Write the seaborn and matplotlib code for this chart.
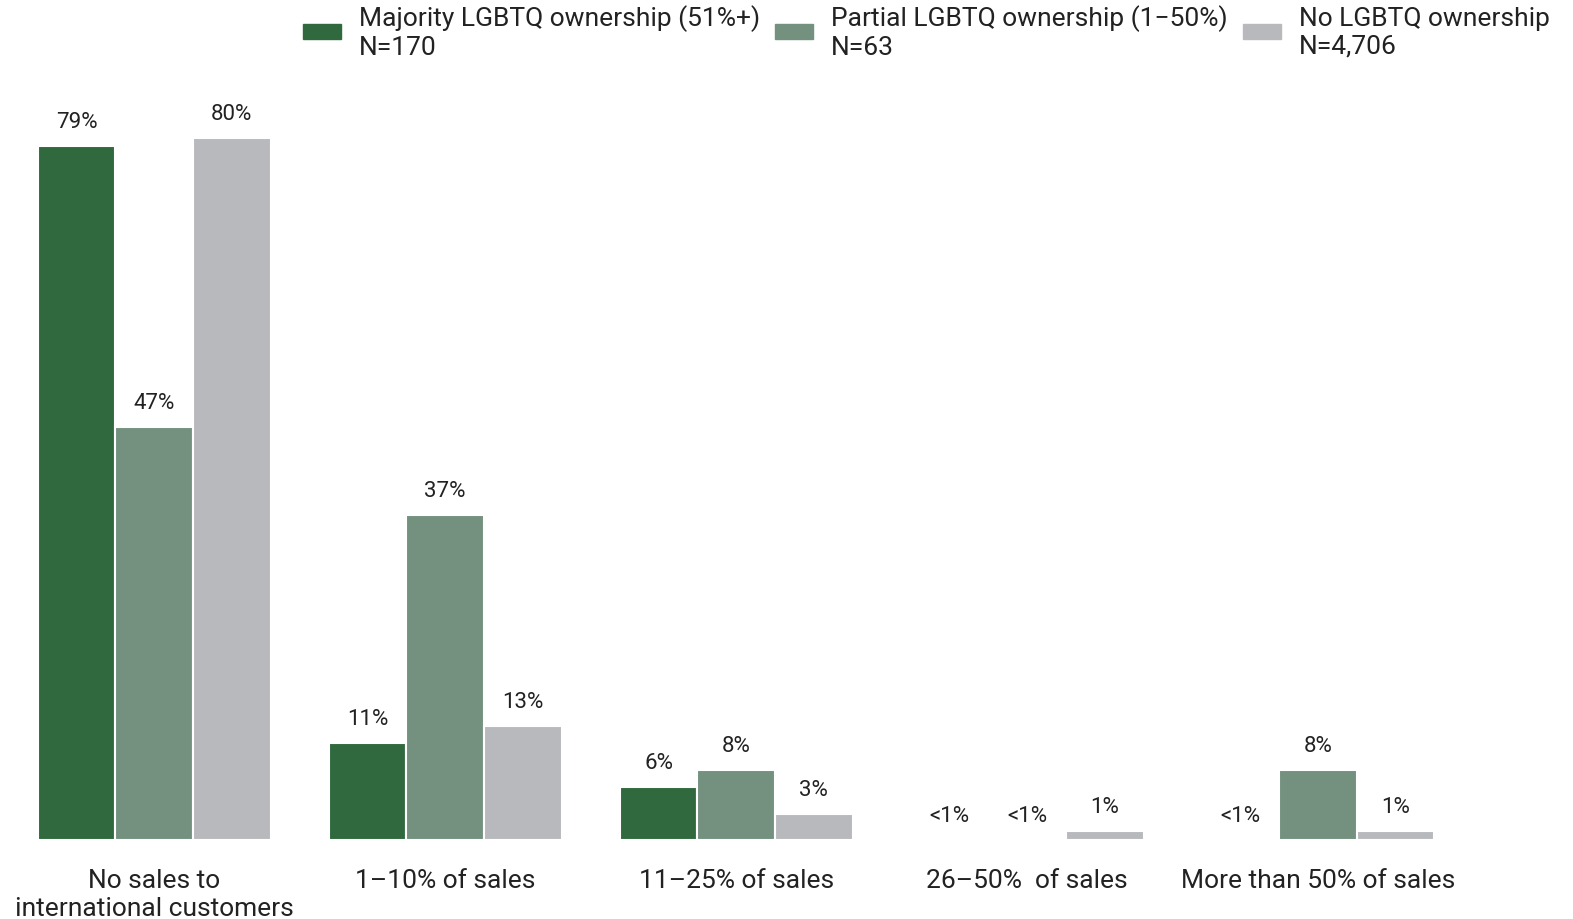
import pandas as pd
import seaborn as sns
import matplotlib.pyplot as plt

categories = ["No sales to\ninternational customers", "1\u201310% of sales",
              "11\u201325% of sales", "26\u201350%  of sales", "More than 50% of sales"]
groups = ["Majority LGBTQ ownership (51%+)\nN=170",
          "Partial LGBTQ ownership (1\u221250%)\nN=63",
          "No LGBTQ ownership\nN=4,706"]
majority = [79, 11, 6, 0, 0]
partial = [47, 37, 8, 0, 8]
no_lgbtq = [80, 13, 3, 1, 1]
majority_lbl = ["79%", "11%", "6%", "<1%", "<1%"]
partial_lbl = ["47%", "37%", "8%", "<1%", "8%"]
no_lbl = ["80%", "13%", "3%", "1%", "1%"]
colors = ["#30693d", "#73917e", "#b8b9bd"]

rows = []
for g, vals in zip(groups, [majority, partial, no_lgbtq]):
    for c, v in zip(categories, vals):
        rows.append({"cat": c, "group": g, "pct": v})
df = pd.DataFrame(rows)

sns.set_style("white")
plt.rcParams["font.family"] = ["Roboto", "DejaVu Sans"]

fig = plt.figure(figsize=(15.73, 9.2), dpi=100)
ax = fig.add_axes([0, 0.0859, 1, 0.859])
sns.barplot(data=df, x="cat", y="pct", hue="group", palette=colors, saturation=1,
            width=0.8, edgecolor="white", linewidth=1.5, ax=ax, legend=False)

for cont, lbls in zip(ax.containers, [majority_lbl, partial_lbl, no_lbl]):
    ax.bar_label(cont, labels=lbls, padding=10, fontsize=16, color="#222222")

ax.set_xlim(-0.53, 4.876)
ax.set_ylim(0, 90)
ax.set_xlabel("")
ax.set_ylabel("")
ax.set_yticks([])
ax.tick_params(axis="x", length=0, pad=20, labelsize=19, labelcolor="#222222")
for s in ax.spines.values():
    s.set_visible(False)

handles = [plt.Rectangle((0, 0), 1, 1, color=c) for c in colors]
fig.legend(handles, groups, loc="upper left", bbox_to_anchor=(0.1775, 1.02),
           ncol=3, frameon=False, fontsize=19, handlelength=1.44, handleheight=0.5,
           handletextpad=0.68, columnspacing=0.57, labelcolor="#222222",
           labelspacing=0.2)

fig.savefig("out.png", dpi=100)
